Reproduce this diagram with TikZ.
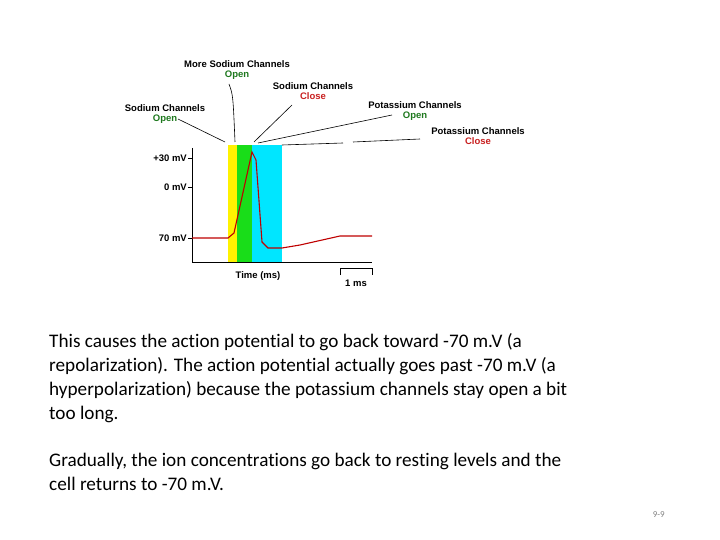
\documentclass[tikz,border=0pt]{standalone}
\usepackage{fontspec}
\setmainfont{Carlito}[Ligatures=NoCommon]
\newfontfamily\lab{Liberation Sans}
\begin{document}
\begin{tikzpicture}[x=1pt,y=-1pt,
  lbl/.style={font=\lab\bfseries\fontsize{9.5}{10}\selectfont,inner sep=0pt,align=center},
  ld/.style={black,line width=0.6pt},
  para/.style={font=\fontsize{19.2}{24}\selectfont,anchor=north west,inner sep=0pt,align=left}]
\definecolor{grn}{RGB}{30,120,30}
\definecolor{rd}{RGB}{200,30,30}
\definecolor{cy}{RGB}{0,230,255}
\useasboundingbox (0,0) rectangle (720,540);
\fill[yellow] (228,145) rectangle (237,262);
\fill[green!85!black!90] (237,145) rectangle (252,262);
\fill[cy] (252,145) rectangle (282,262);
\draw[line width=1pt] (192,148) -- (192,262) -- (372,262);
\foreach \y in {158,187,238} \draw (188,\y) -- (192,\y);
\node[lbl,anchor=east] (t30) at (187,158) {+30 mV};
\node[lbl,anchor=east] (t0) at (187,187) {0 mV};
\node[lbl,anchor=east] (t70) at (187,238) {70 mV};
\draw[red!75!black,line width=1.1pt] (192,238) -- (228,238) -- (234,233) -- (252,152) -- (256,160) -- (262,242) -- (268,248) -- (282,248) -- (300,245) -- (340,236) -- (372,236);
\node[lbl] (time) at (258,276) {Time (ms)};
\draw (340,275) -- (340,268) -- (372,268) -- (372,275);
\node[lbl] (ms) at (356,283) {1 ms};
\node[lbl] (a) at (237,70) {More Sodium Channels\\ \textcolor{grn}{Open}};
\node[lbl] (b) at (313,91) {Sodium Channels\\ \textcolor{rd}{Close}};
\node[lbl] (c) at (165,114) {Sodium Channels\\ \textcolor{grn}{Open}};
\node[lbl] (d) at (415,111) {Potassium Channels\\ \textcolor{grn}{Open}};
\node[lbl] (e) at (478,136) {Potassium Channels\\ \textcolor{rd}{Close}};
\coordinate (c1) at (178,119); \coordinate (c2) at (225,142);
\draw[ld] (c1) -- (c2);
\coordinate (a1) at (229,84); \coordinate (a2) at (235,142);
\draw[ld] (a1) .. controls (233,95) .. (a2);
\coordinate (b1) at (292,105); \coordinate (b2) at (254,142);
\draw[ld] (b1) -- (b2);
\coordinate (d1) at (392,115); \coordinate (d2) at (258,143);
\draw[ld] (d1) -- (d2);
\coordinate (e0) at (282,145); \coordinate (e1) at (343,143);
\coordinate (e2) at (353,142); \coordinate (e3) at (420,139);
\draw[ld] (e0) -- (e1); \draw[ld] (e2) -- (e3);
\node[para] (p1) at (49,333) {This causes the action potential to go back toward -70 m.V (a\\ repolarization). The action potential actually goes past -70 m.V (a\\ hyperpolarization) because the potassium channels stay open a bit\\ too long.};
\node[para] (p2) at (49,453) {Gradually, the ion concentrations go back to resting levels and the\\ cell returns to -70 m.V.};
\node[font=\fontsize{9}{10}\selectfont,text=gray,anchor=east,inner sep=0pt] (pg) at (665,515) {9-9};
\end{tikzpicture}
\end{document}
